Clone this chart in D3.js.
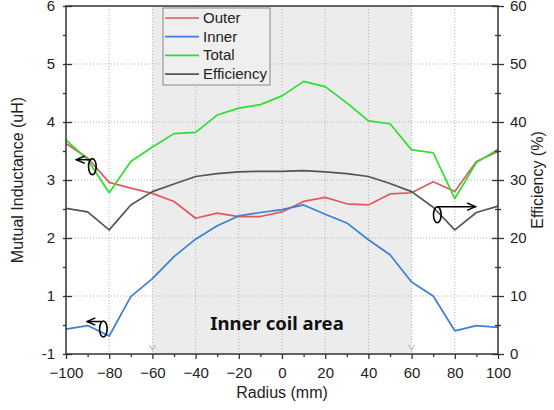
<!DOCTYPE html>
<html>
<head>
<meta charset="utf-8">
<script src="https://cdn.jsdelivr.net/npm/d3@7"></script>
<style>
  body { margin: 0; background: #fff; }
  svg text { font-family: "Liberation Sans", Arial, sans-serif; fill: #222; }
</style>
</head>
<body>
<svg id="chart" width="554" height="410"></svg>
<script>
// radius positions (mm)
var radius = [-100, -90, -80, -70, -60, -50, -40, -30, -20, -10, 0, 10, 20, 30, 40, 50, 60, 70, 80, 90, 100];
// mutual inductance (uH)
var outer = [3.63, 3.38, 2.96, 2.86, 2.77, 2.63, 2.34, 2.43, 2.37, 2.37, 2.45, 2.63, 2.70, 2.59, 2.57, 2.76, 2.78, 2.97, 2.80, 3.32, 3.49];
var inner = [0.43, 0.49, 0.31, 0.99, 1.30, 1.68, 1.98, 2.21, 2.38, 2.44, 2.49, 2.57, 2.41, 2.26, 1.97, 1.71, 1.24, 1.00, 0.40, 0.49, 0.46];
var total = [3.69, 3.35, 2.78, 3.32, 3.57, 3.80, 3.82, 4.12, 4.24, 4.30, 4.45, 4.70, 4.61, 4.33, 4.02, 3.97, 3.52, 3.47, 2.68, 3.30, 3.53];
// efficiency (%)
var efficiency = [25.1, 24.5, 21.4, 25.7, 28.0, 29.3, 30.6, 31.1, 31.4, 31.5, 31.5, 31.6, 31.4, 31.1, 30.6, 29.4, 28.0, 25.3, 21.4, 24.4, 25.5];

var seriesNames = ["Outer", "Inner", "Total", "Efficiency"];
var seriesColors = ["#e0595e", "#3c7fd6", "#2be02b", "#555555"];

var xTicks = [-100, -80, -60, -40, -20, 0, 20, 40, 60, 80, 100];
var leftTicks = [0, 1, 2, 3, 4, 5, 6];
var leftTickLabels = ["-1", "1", "2", "3", "4", "5", "6"];
var rightTicks = [0, 10, 20, 30, 40, 50, 60];
var innerArea = [-60, 60];

var svg = d3.select("#chart");
var pLeft = 66, pRight = 498, pTop = 6, pBottom = 354;

var x = d3.scaleLinear().domain([-100, 100]).range([pLeft, pRight]);
var yL = d3.scaleLinear().domain([0, 6]).range([pBottom, pTop]);
var yR = d3.scaleLinear().domain([0, 60]).range([pBottom, pTop]);

// shaded inner coil area
svg.append("rect")
  .attr("x", x(innerArea[0]))
  .attr("y", pTop)
  .attr("width", x(innerArea[1]) - x(innerArea[0]))
  .attr("height", pBottom - pTop)
  .attr("fill", "#ececec");

// grid
var grid = svg.append("g").attr("stroke", "#b0b0b0").attr("stroke-dasharray", "1,2").attr("stroke-width", 1);
xTicks.slice(1, -1).forEach(function (t) {
  grid.append("line").attr("x1", x(t)).attr("x2", x(t)).attr("y1", pTop).attr("y2", pBottom);
});
leftTicks.slice(1, -1).forEach(function (t) {
  grid.append("line").attr("x1", pLeft).attr("x2", pRight).attr("y1", yL(t)).attr("y2", yL(t));
});

// small arrow heads at the area edges
innerArea.forEach(function (t) {
  svg.append("path")
    .attr("d", "M" + (x(t) - 3) + "," + (pBottom - 9) + "L" + x(t) + "," + (pBottom - 4) + "L" + (x(t) + 3) + "," + (pBottom - 9))
    .attr("fill", "none").attr("stroke", "#aaa").attr("stroke-width", 1);
});

svg.append("text")
  .text("Inner coil area")
  .attr("x", x(0) - 5)
  .attr("y", 330)
  .attr("text-anchor", "middle")
  .style("font-family", "'Noto Sans', sans-serif")
  .style("font-weight", "bold")
  .style("font-size", "18.5px")
  .style("fill", "#111");

// lines
var lineL = d3.line().x(function (d, i) { return x(radius[i]); }).y(function (d) { return yL(d); });
var lineR = d3.line().x(function (d, i) { return x(radius[i]); }).y(function (d) { return yR(d); });

var plots = [[outer, lineL], [inner, lineL], [total, lineL], [efficiency, lineR]];
plots.forEach(function (p, i) {
  svg.append("path")
    .datum(p[0])
    .attr("d", p[1])
    .attr("fill", "none")
    .attr("stroke", seriesColors[i])
    .attr("stroke-width", 1.7)
    .attr("stroke-linejoin", "round");
});

// frame
svg.append("rect")
  .attr("x", pLeft).attr("y", pTop)
  .attr("width", pRight - pLeft).attr("height", pBottom - pTop)
  .attr("fill", "none").attr("stroke", "#333").attr("stroke-width", 1.5);

// axes
function styleAxis(g) {
  g.select(".domain").remove();
  g.selectAll("line").attr("stroke", "#333").attr("stroke-width", 1.3);
  g.selectAll("text").style("font-size", "15px").style("font-family", "'Liberation Sans', Arial, sans-serif").attr("fill", "#222");
}

var xMinor = d3.range(-90, 100, 20);
svg.append("g").attr("transform", "translate(0," + pBottom + ")")
  .call(d3.axisBottom(x).tickValues(xTicks).tickSize(5).tickPadding(8).tickFormat(d3.format("d")))
  .call(styleAxis);
svg.append("g").attr("transform", "translate(0," + pBottom + ")")
  .call(d3.axisBottom(x).tickValues(xMinor).tickSize(3).tickFormat(""))
  .call(styleAxis);

svg.append("g").attr("transform", "translate(" + pLeft + ",0)")
  .call(d3.axisRight(yL).tickValues(leftTicks).tickSize(6).tickFormat(""))
  .call(styleAxis);
svg.append("g").attr("transform", "translate(" + pLeft + ",0)")
  .call(d3.axisLeft(yL).tickValues(leftTicks).tickSize(3).tickPadding(8).tickFormat(function (d, i) { return leftTickLabels[i]; }))
  .call(styleAxis);
svg.append("g").attr("transform", "translate(" + pLeft + ",0)")
  .call(d3.axisLeft(yL).tickValues(d3.range(0.5, 6, 1)).tickSize(3).tickFormat(""))
  .call(styleAxis);

svg.append("g").attr("transform", "translate(" + pRight + ",0)")
  .call(d3.axisRight(yR).tickValues(rightTicks).tickSize(6).tickPadding(6))
  .call(styleAxis);
svg.append("g").attr("transform", "translate(" + pRight + ",0)")
  .call(d3.axisLeft(yR).tickValues(rightTicks).tickSize(6).tickFormat(""))
  .call(styleAxis);
svg.append("g").attr("transform", "translate(" + pRight + ",0)")
  .call(d3.axisRight(yR).tickValues(d3.range(5, 60, 10)).tickSize(3).tickFormat(""))
  .call(styleAxis);
svg.append("g").attr("transform", "translate(" + pRight + ",0)")
  .call(d3.axisLeft(yR).tickValues(d3.range(5, 60, 10)).tickSize(3).tickFormat(""))
  .call(styleAxis);

// axis titles
svg.append("text").text("Radius (mm)")
  .attr("x", x(0)).attr("y", 398).attr("text-anchor", "middle").style("font-size", "16px");
svg.append("text").text("Mutual Inductance (uH)")
  .attr("transform", "translate(23," + ((pTop + pBottom) / 2) + ") rotate(-90)")
  .attr("text-anchor", "middle").style("font-size", "16px");
svg.append("text").text("Efficiency (%)")
  .attr("transform", "translate(543," + ((pTop + pBottom) / 2) + ") rotate(-90)")
  .attr("text-anchor", "middle").style("font-size", "16px");

// legend
var legend = svg.append("g");
legend.append("rect")
  .attr("x", 163).attr("y", 8).attr("width", 107).attr("height", 77)
  .attr("fill", "#efefef").attr("stroke", "#888").attr("stroke-width", 1);
seriesNames.forEach(function (name, i) {
  var ly = 18 + i * 18.7;
  legend.append("line")
    .attr("x1", 165).attr("x2", 199).attr("y1", ly).attr("y2", ly)
    .attr("stroke", seriesColors[i]).attr("stroke-width", 1.7);
  legend.append("text").text(name)
    .attr("x", 203).attr("y", ly + 5).style("font-size", "15px");
});

// axis markers (ellipse + arrow)
svg.append("defs").append("marker")
  .attr("id", "arrow").attr("viewBox", "0 0 10 10").attr("refX", 9).attr("refY", 5)
  .attr("markerWidth", 7).attr("markerHeight", 7).attr("orient", "auto")
  .append("path").attr("d", "M1,1.5L9,5L1,8.5").attr("fill", "none").attr("stroke", "#000").attr("stroke-width", 1.4);

var markers = [
  { cx: x(-87.8), cy: yL(3.23), x1: x(-88.5), y1: yL(3.35), x2: x(-95.2), y2: yL(3.35) },
  { cx: x(-82.7), cy: yL(0.43), x1: x(-83.5), y1: yL(0.56), x2: x(-90.3), y2: yL(0.56) },
  { cx: x(71.9), cy: yR(24.0), x1: x(71.9), y1: yR(25.4), x2: x(89.6), y2: yR(25.4) }
];
markers.forEach(function (m) {
  svg.append("ellipse")
    .attr("cx", m.cx).attr("cy", m.cy).attr("rx", 3.8).attr("ry", 8)
    .attr("fill", "none").attr("stroke", "#000").attr("stroke-width", 1.6);
  svg.append("line")
    .attr("x1", m.x1).attr("y1", m.y1).attr("x2", m.x2).attr("y2", m.y2)
    .attr("stroke", "#000").attr("stroke-width", 1.5)
    .attr("marker-end", "url(#arrow)");
});
</script>
</body>
</html>
